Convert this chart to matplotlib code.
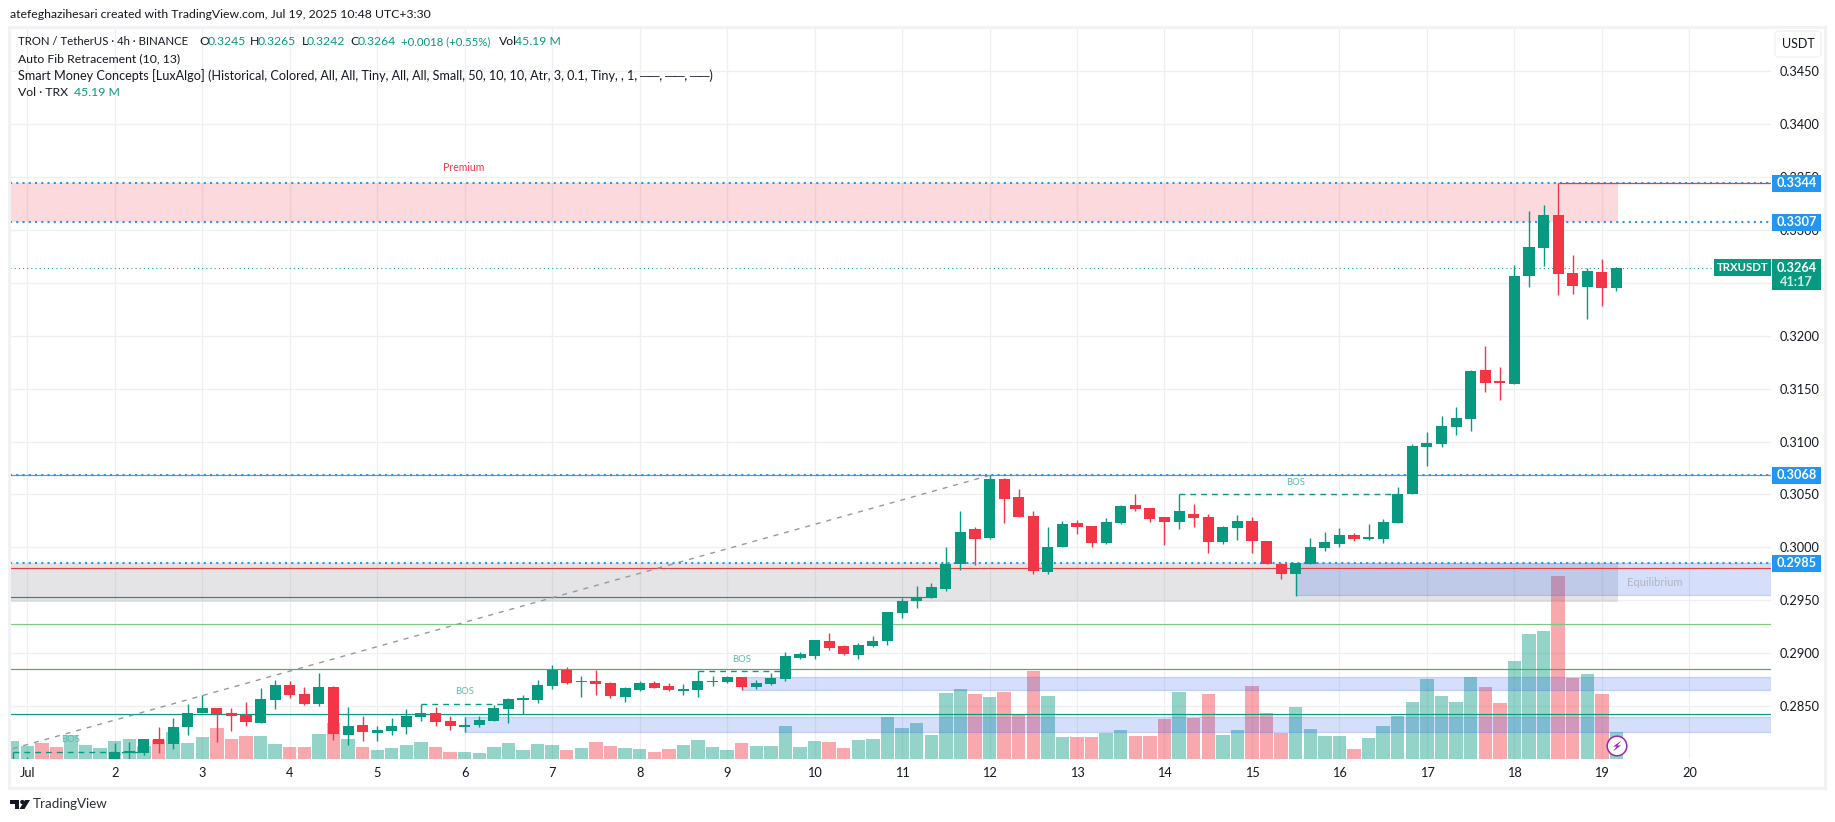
import numpy as np
import matplotlib
matplotlib.use("Agg")
import matplotlib.pyplot as plt
from matplotlib.patches import Rectangle, Polygon, Circle, FancyBboxPatch

plt.rcParams["font.family"] = ["Lato", "DejaVu Sans"]

nan = float("nan")

# 4h bars of TRXUSDT, one row per day; the first bar is the tail of Jun 30
bar_index = list(range(-1, 110))

opens = [0.2790,
         0.2795, nan, nan, nan, nan, nan,
         0.2799, 0.2806, 0.2806, 0.2819, 0.2814, 0.2830,
         0.2844, 0.2848, 0.2844, 0.2842, 0.2834, 0.2856,
         0.2870, 0.2862, 0.2852, 0.2868, 0.2823, 0.2832,
         0.2825, 0.2827, 0.2830, 0.2840, 0.2844, 0.2836,
         0.2830, 0.2832, 0.2836, 0.2847, 0.2856, 0.2856,
         0.2869, 0.2884, 0.2873, 0.2874, 0.2872, 0.2859,
         0.2865, 0.2872, 0.2869, 0.2864, 0.2865, 0.2873,
         0.2873, 0.2878, 0.2868, 0.2871, 0.2876, 0.2896,
         0.2897, 0.2912, 0.2907, 0.2898, 0.2907, 0.2912,
         0.2938, 0.2949, 0.2952, 0.2961, 0.2984, 0.3017,
         0.3009, 0.3065, 0.3048, 0.3030, 0.2977, 0.3000,
         0.3023, 0.3020, 0.3004, 0.3023, 0.3040, 0.3037,
         0.3029, 0.3024, 0.3032, 0.3029, 0.3005, 0.3018,
         0.3025, 0.3006, 0.2984, 0.2975, 0.2984, 0.2999,
         0.3003, 0.3012, 0.3008, 0.3008, 0.3023, 0.3050,
         0.3095, 0.3098, 0.3114, 0.3121, 0.3168, 0.3157,
         0.3154, 0.3256, 0.3283, 0.3314, 0.3259, 0.3246,
         0.3260, 0.3245]

highs = [0.2807,
         0.2802, nan, nan, nan, nan, nan,
         0.2815, 0.2816, 0.2819, 0.2830, 0.2839, 0.2852,
         0.2861, 0.2848, 0.2848, 0.2854, 0.2867, 0.2875,
         0.2874, 0.2868, 0.2881, 0.2869, 0.2849, 0.2841,
         0.2831, 0.2839, 0.2847, 0.2852, 0.2849, 0.2841,
         0.2840, 0.2841, 0.2851, 0.2858, 0.2861, 0.2875,
         0.2889, 0.2887, 0.2879, 0.2884, 0.2873, 0.2868,
         0.2874, 0.2874, 0.2872, 0.2871, 0.2883, 0.2879,
         0.2879, 0.2878, 0.2875, 0.2881, 0.2901, 0.2901,
         0.2913, 0.2919, 0.2908, 0.2910, 0.2916, 0.2939,
         0.2952, 0.2964, 0.2966, 0.3000, 0.3034, 0.3019,
         0.3068, 0.3066, 0.3055, 0.3034, 0.3019, 0.3025,
         0.3026, 0.3020, 0.3028, 0.3040, 0.3050, 0.3037,
         0.3029, 0.3050, 0.3041, 0.3032, 0.3020, 0.3031,
         0.3029, 0.3006, 0.2985, 0.2985, 0.3009, 0.3015,
         0.3018, 0.3014, 0.3022, 0.3027, 0.3057, 0.3098,
         0.3109, 0.3124, 0.3133, 0.3168, 0.3190, 0.3170,
         0.3267, 0.3318, 0.3323, 0.3344, 0.3276, 0.3264,
         0.3272, 0.3265]

lows = [0.2780,
        0.2780, nan, nan, nan, nan, nan,
        0.2795, 0.2795, 0.2804, 0.2806, 0.2810, 0.2823,
        0.2844, 0.2816, 0.2827, 0.2831, 0.2834, 0.2847,
        0.2858, 0.2851, 0.2850, 0.2818, 0.2813, 0.2817,
        0.2817, 0.2823, 0.2824, 0.2836, 0.2831, 0.2828,
        0.2826, 0.2830, 0.2836, 0.2834, 0.2843, 0.2853,
        0.2866, 0.2871, 0.2859, 0.2861, 0.2858, 0.2854,
        0.2864, 0.2867, 0.2864, 0.2861, 0.2859, 0.2869,
        0.2872, 0.2865, 0.2866, 0.2870, 0.2874, 0.2895,
        0.2895, 0.2903, 0.2898, 0.2895, 0.2906, 0.2908,
        0.2933, 0.2943, 0.2952, 0.2959, 0.2979, 0.2983,
        0.3008, 0.3023, 0.3029, 0.2975, 0.2975, 0.3000,
        0.3013, 0.3000, 0.3003, 0.3022, 0.3034, 0.3024,
        0.3002, 0.3017, 0.3019, 0.2995, 0.3003, 0.3007,
        0.2995, 0.2984, 0.2970, 0.2954, 0.2984, 0.2997,
        0.3000, 0.3006, 0.3007, 0.3004, 0.3023, 0.3050,
        0.3077, 0.3095, 0.3106, 0.3110, 0.3147, 0.3139,
        0.3154, 0.3246, 0.3266, 0.3238, 0.3239, 0.3216,
        0.3228, 0.3242]

closes = [0.2795,
          0.2798, nan, nan, nan, nan, nan,
          0.2807, 0.2808, 0.2819, 0.2814, 0.2830, 0.2844,
          0.2848, 0.2843, 0.2841, 0.2835, 0.2857, 0.2870,
          0.2861, 0.2852, 0.2868, 0.2824, 0.2831, 0.2826,
          0.2828, 0.2831, 0.2841, 0.2844, 0.2835, 0.2831,
          0.2832, 0.2837, 0.2848, 0.2857, 0.2858, 0.2870,
          0.2884, 0.2872, 0.2874, 0.2871, 0.2860, 0.2867,
          0.2872, 0.2867, 0.2865, 0.2866, 0.2874, 0.2874,
          0.2878, 0.2868, 0.2872, 0.2877, 0.2897, 0.2899,
          0.2913, 0.2905, 0.2899, 0.2908, 0.2912, 0.2939,
          0.2949, 0.2953, 0.2963, 0.2984, 0.3015, 0.3008,
          0.3065, 0.3046, 0.3029, 0.2978, 0.3000, 0.3022,
          0.3019, 0.3004, 0.3024, 0.3039, 0.3036, 0.3027,
          0.3024, 0.3034, 0.3028, 0.3005, 0.3019, 0.3025,
          0.3006, 0.2984, 0.2975, 0.2985, 0.3000, 0.3005,
          0.3012, 0.3008, 0.3010, 0.3024, 0.3050, 0.3096,
          0.3099, 0.3115, 0.3122, 0.3167, 0.3155, 0.3155,
          0.3256, 0.3284, 0.3314, 0.3258, 0.3247, 0.3261,
          0.3245, 0.3264]

# volume in millions TRX
volumes = [30.0,
           21.8, 26.8, 20.0, 40.0, 23.4, 18.4,
           30.0, 33.5, 21.8, 31.8, 45.2, 26.8,
           36.8, 52.0, 33.5, 38.5, 38.5, 25.0,
           20.0, 20.0, 42.0, 60.0, 33.5, 20.0,
           15.0, 18.4, 23.4, 28.5, 20.0, 11.7,
           11.7, 10.0, 20.0, 26.8, 15.0, 25.0,
           23.4, 15.0, 18.4, 28.5, 21.8, 18.4,
           16.7, 11.7, 16.7, 23.4, 31.8, 20.0,
           15.0, 26.8, 21.8, 21.8, 55.0, 20.0,
           30.0, 28.5, 18.4, 31.8, 33.5, 70.0,
           52.0, 60.0, 40.0, 110.5, 117.0, 109.0,
           104.0, 112.0, 73.7, 147.0, 105.5, 36.8,
           36.8, 36.8, 43.5, 48.5, 38.5, 38.5,
           67.0, 112.0, 68.6, 109.0, 40.0, 48.5,
           122.0, 77.0, 43.5, 87.0, 50.0, 38.5,
           38.5, 16.7, 35.0, 55.0, 72.0, 95.0,
           134.0, 105.5, 95.0, 137.0, 120.5, 94.0,
           164.0, 209.0, 214.0, 306.0, 135.6, 142.0,
           109.0, 45.19]

# direction of the first bars, whose candles sit below the visible range
early_up = [True, True, False, False, True, True, True]

y_ticks = [0.2850, 0.2900, 0.2950, 0.3000, 0.3050, 0.3100, 0.3150, 0.3200,
           0.3250, 0.3300, 0.3350, 0.3400, 0.3450]
# 0.3250 sits under the last price tag, so only its grid line is drawn
y_tick_labels = ["" if t == 0.3250 else f"{t:.4f}" for t in y_ticks]
day_labels = ["Jul", "2", "3", "4", "5", "6", "7", "8", "9", "10", "11", "12",
              "13", "14", "15", "16", "17", "18", "19", "20"]
day_bars = [6 * n for n in range(len(day_labels))]

GREEN = "#089981"
RED = "#F23645"
BLUE = "#2196F3"
INK = "#131722"
ZONE_BLUE = (33 / 255, 87 / 255, 243 / 255)

opens_a, highs_a, lows_a, closes_a = map(np.array, (opens, highs, lows, closes))
bars = np.array(bar_index)
up = closes_a >= opens_a

W, H = 1835, 822
rect = [10 / W, (H - 759) / H, 1761 / W, 730 / H]
xlim = (-1.187, 119.6)
ylim = (0.28002, 0.34896)

fig = plt.figure(figsize=(W / 100, H / 100), dpi=100, facecolor="white")

# tick labels and grid live on the bottom axes
ax = fig.add_axes(rect, zorder=0)
ax.set_xlim(xlim)
ax.set_ylim(ylim)
ax.set_yticks(y_ticks)
ax.set_yticklabels(y_tick_labels)
ax.set_xticks(day_bars)
ax.set_xticklabels(day_labels)
ax.yaxis.tick_right()
ax.tick_params(axis="y", length=0, pad=6, labelsize=9.2, labelcolor=INK)
ax.tick_params(axis="x", length=0, pad=6, labelsize=9.2, labelcolor=INK)
ax.grid(color="#EFEFF2", lw=0.9)
ax.set_axisbelow(True)
for s in ax.spines.values():
    s.set_visible(False)

# volume pane shares the bottom of the chart
ax_vol = fig.add_axes(rect, zorder=1)
ax_vol.set_xlim(xlim)
ax_vol.set_ylim(0, 1222)
ax_vol.patch.set_alpha(0)
ax_vol.set_axis_off()
vol_up = np.array(early_up + list(up[len(early_up):]))
ax_vol.bar(bars, volumes, width=0.92,
           color=[GREEN if u else RED for u in vol_up], alpha=0.43, lw=0)

ax_main = fig.add_axes(rect, zorder=2)
ax_main.set_xlim(xlim)
ax_main.set_ylim(ylim)
ax_main.patch.set_alpha(0)
ax_main.set_axis_off()


def zone(i0, i1, top, bottom, face, alpha, edge=False):
    edgecolor = face + (0.2,) if edge else "none"
    ax_main.add_patch(Rectangle((i0, bottom), i1 - i0, top - bottom,
                                facecolor=face + (alpha,), edgecolor=edgecolor,
                                lw=0.9, zorder=1))


# premium, equilibrium and order block areas
zone(xlim[0], 109.1, 0.3344, 0.3307, (242 / 255, 54 / 255, 69 / 255), 0.19)
zone(xlim[0], 109.1, 0.2985, 0.2948, (120 / 255, 123 / 255, 134 / 255), 0.2)
zone(87.0, xlim[1], 0.2985, 0.2955, ZONE_BLUE, 0.19, edge=True)
zone(49.0, xlim[1], 0.28775, 0.28655, ZONE_BLUE, 0.19, edge=True)
zone(30.0, xlim[1], 0.2840, 0.2826, ZONE_BLUE, 0.19, edge=True)

# auto fib levels
ax_main.hlines(0.3068, *xlim, color="#8A8D99", lw=0.85, zorder=2)
ax_main.hlines(0.2981, *xlim, color="#E0433F", lw=0.85, zorder=2)
ax_main.hlines(0.2953, xlim[0], 62, color="#2B8A78", lw=0.85, zorder=2)
ax_main.hlines(0.2928, *xlim, color="#81C784", lw=0.85, zorder=2)
ax_main.hlines(0.2885, *xlim, color="#4CAF50", lw=0.85, zorder=2)
ax_main.hlines(0.28425, *xlim, color=GREEN, lw=0.85, zorder=2)
ax_main.plot([-1.0, 66], [0.2810, 0.3068], color="#9598A1", lw=1.0,
             ls=(0, (3.6, 4.3)), zorder=2)

# swing levels
for level in (0.3344, 0.3307, 0.3068, 0.2985):
    ax_main.plot(xlim, [level, level], color=BLUE, lw=1.5, ls=(0, (1, 2)),
                 dash_capstyle="butt", zorder=3)
ax_main.plot(xlim, [0.3264, 0.3264], color=GREEN, lw=0.75, ls=(0, (1, 3)),
             dash_capstyle="butt", zorder=3)
ax_main.hlines(0.3344, 105, xlim[1], color=RED, lw=0.9, zorder=3)

# break of structure segments
bos_segments = [(-1, 8, 0.28065, 3.0, 0.2819), (27, 33, 0.2852, 30.0, 0.2864),
                (46, 52, 0.2883, 49.0, 0.2894), (79, 94, 0.3050, 87.0, 0.30615)]
for i0, i1, level, text_i, text_y in bos_segments:
    ax_main.plot([i0, i1], [level, level], color=GREEN, lw=1.0,
                 ls=(0, (4.2, 3.6)), zorder=3)
    ax_main.text(text_i, text_y, "BOS", color="#5BBCAC", fontsize=6.8,
                 ha="center", va="center", zorder=3)

# candles
for mask, color in ((up, GREEN), (~up, RED)):
    ax_main.vlines(bars[mask], lows_a[mask], highs_a[mask], color=color,
                   lw=1.0, zorder=4)
    body_low = np.minimum(opens_a, closes_a)[mask]
    body_high = np.maximum(opens_a, closes_a)[mask]
    ax_main.bar(bars[mask], body_high - body_low, bottom=body_low, width=0.76,
                color=color, lw=0, zorder=5)

ax_main.text(29.9, 0.3359, "Premium", color=RED, fontsize=7.6, ha="center",
             va="center", zorder=6)
ax_main.text(111.6, 0.29670, "Equilibrium", color="#B2B5BE", fontsize=8,
             ha="center", va="center", zorder=6)

# page furniture is placed in pixel coordinates on a full figure overlay
over = fig.add_axes([0, 0, 1, 1], zorder=3)
over.set_xlim(0, W)
over.set_ylim(H, 0)
over.patch.set_alpha(0)
over.set_axis_off()

over.add_patch(Rectangle((8.5, 27.5), 1816, 760, fill=False,
                         edgecolor="#F1F2F4", lw=2.2))


def label(x, y, text, color=INK, size=8.8, **kw):
    over.text(x, y, text, color=color, fontsize=size, va="center", **kw)


label(10, 15, "atefeghazihesari created with TradingView.com, Jul 19, 2025 10:48 UTC+3:30")

label(18, 41.5, "TRON / TetherUS · 4h · BINANCE", size=8.2)
for x, t, c, s in [(199, "O", INK, 8.8), (207.5, "0.3245", GREEN, 8.8), (250, "H", INK, 8.8),
                   (258, "0.3265", GREEN, 8.8), (301.5, "L", INK, 8.8), (307, "0.3242", GREEN, 8.8),
                   (350, "C", INK, 8.8), (358, "0.3264", GREEN, 8.8),
                   (401, "+0.0018 (+0.55%)", GREEN, 8.2), (499, "Vol", INK, 8.8),
                   (515, "45.19 M", GREEN, 8.8)]:
    label(x, 41.5, t, color=c, size=s)
label(18, 59, "Auto Fib Retracement (10, 13)")
label(18, 76, "Smart Money Concepts [LuxAlgo] (Historical, Colored, All, All, Tiny, "
              "All, All, Small, 50, 10, 10, Atr, 3, 0.1, Tiny, , 1, ──, ──, ──)", size=9.1)
label(18, 93, "Vol · TRX")
label(74, 93, "45.19 M", color=GREEN)

# USDT currency button
over.add_patch(FancyBboxPatch((1777, 33), 42, 22, boxstyle="round,pad=2,rounding_size=4",
                              facecolor="white", edgecolor="#F1F2F4", lw=1.0))
label(1798, 44.5, "USDT", ha="center", size=9.0)


def price_px(price):
    return H - ax.transData.transform((0, price))[1]


# price tags on the scale
for level in (0.3344, 0.3307, 0.3068, 0.2985):
    yc = price_px(level)
    over.add_patch(Rectangle((1772, yc - 8.5), 49, 17, facecolor=BLUE, lw=0))
    label(1796.5, yc, f"{level:.4f}", color="white", size=9.2, ha="center",
          fontweight="bold")

last_y = price_px(closes[-1])
over.add_patch(Rectangle((1772, last_y - 8.5), 49, 31, facecolor=GREEN, lw=0))
label(1796.5, last_y, f"{closes[-1]:.4f}", color="white", size=9.2, ha="center",
      fontweight="bold")
label(1796.5, last_y + 14, "41:17", color="#CFEBE6", size=9.2, ha="center",
      fontweight="bold")
over.add_patch(Rectangle((1714, last_y - 8.5), 57, 17, facecolor=GREEN, lw=0))
label(1742.5, last_y, "TRXUSDT", color="white", size=8.2, ha="center",
      fontweight="bold")

# lightning badge
over.add_patch(Circle((1617, 746), 9.8, facecolor="white", edgecolor="#9C27B0", lw=1.1))
over.add_patch(Polygon([(1621.5, 740.5), (1613, 746.6), (1616.6, 746.6),
                        (1612.8, 751.5), (1621, 745.4), (1617.4, 745.4)],
                       facecolor="#9C27B0", lw=0))

# TradingView mark
over.add_patch(Polygon([(10, 800), (19, 800), (19, 809), (14.5, 809), (14.5, 804), (10, 804)],
                       facecolor=INK, lw=0))
over.add_patch(Circle((22.3, 802), 2.1, facecolor=INK, lw=0))
over.add_patch(Polygon([(25, 800), (30, 800), (24.5, 809), (19.5, 809)],
                       facecolor=INK, lw=0))
label(33, 804, "TradingView", color="#2A2E39", size=9.6)

fig.savefig("out.png", dpi=100)
